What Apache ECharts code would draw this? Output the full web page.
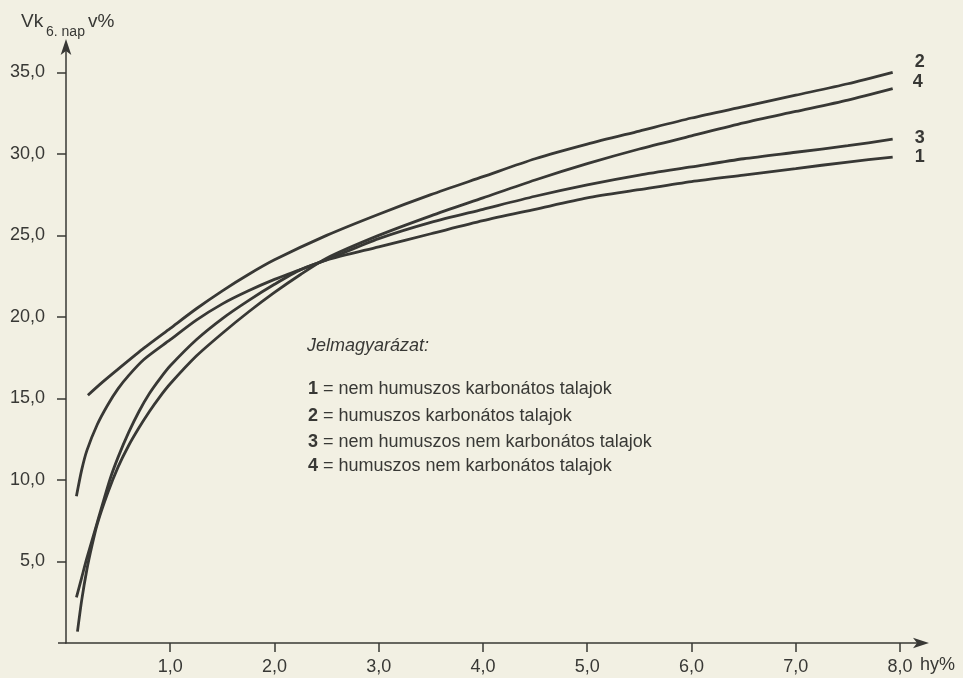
<!DOCTYPE html>
<html>
<head>
<meta charset="utf-8">
<script src="https://cdn.jsdelivr.net/npm/echarts@6/dist/echarts.min.js"></script>
<style>
html,body{margin:0;padding:0;background:#f2f0e3;}
#chart{width:963px;height:678px;}
</style>
</head>
<body>
<div id="chart"></div>
<script>
// Curve 1 = nem humuszos karbonátos talajok
const x1 = [0.1,0.15,0.2,0.3,0.4,0.5,0.6,0.75,1.0,1.25,1.5,1.75,2.0,2.25,2.5,3.0,3.5,4.0,4.5,5.0,5.5,6.0,6.5,7.0,7.5,7.93];
const y1 = [9.0,10.6,11.8,13.4,14.6,15.6,16.4,17.4,18.6,19.8,20.8,21.6,22.3,22.9,23.5,24.3,25.1,25.9,26.6,27.3,27.8,28.3,28.7,29.1,29.5,29.8];
// Curve 2 = humuszos karbonátos talajok
const x2 = [0.21,0.35,0.5,0.75,1.0,1.25,1.5,1.75,2.0,2.5,3.0,3.5,4.0,4.5,5.0,5.5,6.0,6.5,7.0,7.5,7.93];
const y2 = [15.2,16.0,16.8,18.1,19.3,20.5,21.6,22.6,23.5,25.0,26.3,27.5,28.6,29.7,30.6,31.4,32.2,32.9,33.6,34.3,35.0];
// Curve 3 = nem humuszos nem karbonátos talajok
const x3 = [0.1,0.15,0.2,0.3,0.42,0.5,0.6,0.7,0.8,0.9,1.0,1.25,1.5,1.75,2.0,2.25,2.5,3.0,3.5,4.0,4.5,5.0,5.5,6.0,6.5,7.0,7.5,7.93];
const y3 = [2.8,4.0,5.2,7.4,10.0,11.4,12.9,14.2,15.3,16.2,17.0,18.6,19.9,21.0,22.0,22.9,23.5,24.8,25.8,26.6,27.4,28.1,28.7,29.2,29.7,30.1,30.5,30.9];
// Curve 4 = humuszos nem karbonátos talajok
const x4 = [0.11,0.15,0.2,0.25,0.3,0.4,0.5,0.6,0.7,0.8,0.9,1.0,1.25,1.5,1.75,2.0,2.25,2.5,3.0,3.5,4.0,4.5,5.0,5.5,6.0,6.5,7.0,7.5,7.93];
const y4 = [0.7,2.6,4.5,6.0,7.3,9.2,10.8,12.1,13.2,14.2,15.1,15.9,17.6,19.0,20.3,21.5,22.6,23.6,25.0,26.2,27.3,28.4,29.4,30.3,31.1,31.9,32.6,33.3,34.0];

const curveNames = ['1','2','3','4'];
const legendTitle = 'Jelmagyarázat:';
const legendItems = ['nem humuszos karbonátos talajok','humuszos karbonátos talajok','nem humuszos nem karbonátos talajok','humuszos nem karbonátos talajok'];

const FONT = '"Liberation Sans", Arial, Helvetica, sans-serif';
const INK = '#383835';

function pairs(xs, ys){ return xs.map((x,i)=>[x, ys[i]]); }
const fmt = v => v.toFixed(1).replace('.', ',');

const endOffsets = {'1':[14,0],'2':[14,-10],'3':[14,-1],'4':[12,-7]};

function mk(name, xs, ys){
  return {
    type:'line', name:name, data:pairs(xs,ys), smooth:0.25, showSymbol:false, symbol:'none',
    lineStyle:{color:INK, width:2.8}, animation:false,
    endLabel:{show:true, formatter:name, color:INK, fontFamily:FONT, fontSize:18, fontWeight:'bold', offset:endOffsets[name]},
    emphasis:{disabled:true}
  };
}

const rich = {n:{fontWeight:'bold', fontSize:18, fontFamily:FONT, fill:INK}};
function item(i, top){
  return {type:'text', left:308, top:top, style:{text:'{n|'+curveNames[i]+'} = '+legendItems[i], font:'18px '+FONT, fill:INK, rich:rich}};
}

const chart = echarts.init(document.getElementById('chart'));
chart.setOption({
  backgroundColor:'#f2f0e3',
  animation:false,
  grid:{left:66, right:38, top:43, bottom:35, containLabel:false},
  xAxis:{
    type:'value', min:0, max:8.24, interval:1,
    axisLine:{show:true, lineStyle:{color:INK, width:1.5}, symbol:['none','arrow'], symbolSize:[8,16], symbolOffset:[0,4]},
    axisTick:{show:true, inside:false, length:9, lineStyle:{color:INK, width:1.5}},
    axisLabel:{formatter:fmt, color:INK, fontFamily:FONT, fontSize:18, margin:15, showMinLabel:false, showMaxLabel:false},
    splitLine:{show:false}
  },
  yAxis:{
    type:'value', min:0, max:36.8, interval:5,
    axisLine:{show:true, lineStyle:{color:INK, width:1.5}, symbol:['none','arrow'], symbolSize:[8,16], symbolOffset:[0,4]},
    axisTick:{show:true, inside:false, length:9, lineStyle:{color:INK, width:1.5}},
    axisLabel:{formatter:fmt, color:INK, fontFamily:FONT, fontSize:18, margin:21, showMinLabel:false, showMaxLabel:false},
    splitLine:{show:false}
  },
  series:[mk(curveNames[0],x1,y1), mk(curveNames[1],x2,y2), mk(curveNames[2],x3,y3), mk(curveNames[3],x4,y4)],
  graphic:[
    {type:'line', shape:{x1:58, y1:643, x2:66, y2:643}, style:{stroke:INK, lineWidth:1.5}},
    {type:'text', left:21, top:12, style:{text:'Vk', font:'19px '+FONT, fill:INK}},
    {type:'text', left:46, top:25, style:{text:'6. nap', font:'14px '+FONT, fill:INK}},
    {type:'text', left:88, top:12, style:{text:'v%', font:'19px '+FONT, fill:INK}},
    {type:'text', left:920, top:656, style:{text:'hy%', font:'18px '+FONT, fill:INK}},
    {type:'text', left:307, top:337, style:{text:legendTitle, font:'italic 18px '+FONT, fill:INK}},
    item(0, 380), item(1, 407), item(2, 433), item(3, 457)
  ]
});
</script>
</body>
</html>
